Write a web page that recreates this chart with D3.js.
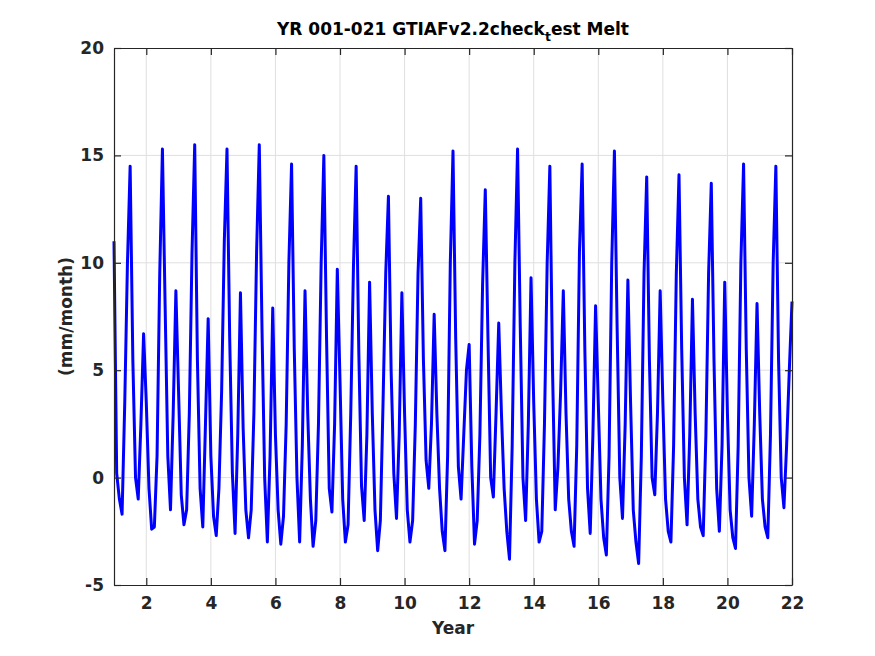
<!DOCTYPE html>
<html>
<head>
<meta charset="utf-8">
<script src="https://cdn.jsdelivr.net/npm/d3@7"></script>
<style>
  html, body { margin: 0; padding: 0; background: #fff; }
  svg { display: block; font-family: "DejaVu Sans", sans-serif; }
</style>
</head>
<body>
<svg id="chart" width="875" height="656"></svg>
<script>
// Monthly melt values (mm/month), one row per model year, samples at year + k/12
const meltYear01 = [11.0, 0.2, -1.0, -1.7, 3.5, 10.0, 14.5, 5.5, 0.0, -1.0, 2.5, 6.7];
const meltYear02 = [3.5, -0.5, -2.4, -2.3, 1.0, 9.5, 15.3, 8.0, 1.0, -1.5, 3.0, 8.7];
const meltYear03 = [4.0, -0.8, -2.2, -1.5, 3.0, 10.5, 15.5, 5.5, -0.5, -2.3, 2.5, 7.4];
const meltYear04 = [1.0, -1.8, -2.7, -0.5, 4.0, 11.0, 15.3, 6.5, 0.2, -2.6, 2.0, 8.6];
const meltYear05 = [2.3, -1.5, -2.8, -1.5, 3.0, 10.5, 15.5, 7.0, 0.0, -3.0, 1.0, 7.9];
const meltYear06 = [2.0, -1.5, -3.1, -1.8, 2.5, 10.0, 14.6, 6.0, 0.0, -3.0, 1.5, 8.7];
const meltYear07 = [3.0, -1.0, -3.2, -2.0, 2.5, 10.0, 15.0, 6.5, -0.5, -1.6, 2.5, 9.7];
const meltYear08 = [4.5, -1.0, -3.0, -2.2, 3.0, 9.8, 14.5, 5.8, -0.4, -2.0, 2.0, 9.1];
const meltYear09 = [3.0, -1.5, -3.4, -2.0, 3.5, 9.5, 13.1, 5.0, 0.2, -1.9, 2.0, 8.6];
const meltYear10 = [3.0, -1.5, -3.0, -2.0, 2.5, 9.5, 13.0, 5.5, 0.8, -0.5, 2.5, 7.6];
const meltYear11 = [3.0, -0.5, -2.5, -3.4, 1.0, 10.0, 15.2, 6.5, 0.5, -1.0, 2.0, 5.0];
const meltYear12 = [6.2, 0.5, -3.1, -2.0, 2.0, 9.0, 13.4, 6.5, 0.0, -0.9, 3.0, 7.2];
const meltYear13 = [3.0, -0.5, -2.5, -3.8, 1.5, 10.0, 15.3, 7.0, 0.0, -2.0, 2.5, 9.3];
const meltYear14 = [3.5, -1.0, -3.0, -2.5, 2.5, 10.0, 14.5, 5.0, -1.5, 0.5, 4.0, 8.7];
const meltYear15 = [3.0, -1.0, -2.5, -3.2, 1.5, 10.5, 14.6, 6.0, -0.5, -2.6, 2.0, 8.0];
const meltYear16 = [3.5, -1.0, -2.8, -3.6, 1.0, 10.0, 15.2, 7.0, 0.0, -1.9, 2.5, 9.2];
const meltYear17 = [3.5, -1.5, -3.0, -4.0, 1.0, 9.5, 14.0, 5.5, 0.0, -0.8, 3.0, 8.7];
const meltYear18 = [3.5, -1.0, -2.5, -3.0, 1.5, 9.5, 14.1, 6.0, 0.0, -2.2, 2.0, 8.3];
const meltYear19 = [3.0, -1.0, -2.3, -2.7, 2.0, 9.5, 13.7, 5.5, -0.5, -2.5, 1.5, 9.1];
const meltYear20 = [3.0, -1.5, -2.8, -3.3, 1.5, 10.0, 14.6, 6.0, 0.0, -1.8, 2.5, 8.1];
const meltYear21 = [3.0, -1.0, -2.3, -2.8, 2.0, 10.0, 14.5, 5.5, 0.0, -1.4, 1.5, 5.0];
const meltEnd = 8.2; // value at year 22.0

const xTicks = [2, 4, 6, 8, 10, 12, 14, 16, 18, 20, 22];
const yTicks = [-5, 0, 5, 10, 15, 20];

const rows = [meltYear01, meltYear02, meltYear03, meltYear04, meltYear05, meltYear06,
  meltYear07, meltYear08, meltYear09, meltYear10, meltYear11, meltYear12, meltYear13,
  meltYear14, meltYear15, meltYear16, meltYear17, meltYear18, meltYear19, meltYear20, meltYear21];

const series = [];
rows.forEach((row, i) => row.forEach((v, k) => series.push({ t: 1 + i + k / 12, v })));
series.push({ t: 22, v: meltEnd });

const svg = d3.select("#chart");
const L = 114, R = 792, T = 48, B = 585;
const x = d3.scaleLinear().domain([1, 22]).range([L, R]);
const y = d3.scaleLinear().domain([-5, 20]).range([B, T]);
const axisColor = "#262626";
const gridColor = "#dfdfdf";

// grid
svg.append("g").selectAll("line").data(xTicks.filter(d => d < 22)).join("line")
  .attr("x1", d => x(d)).attr("x2", d => x(d)).attr("y1", T).attr("y2", B)
  .attr("stroke", gridColor).attr("stroke-width", 1);
svg.append("g").selectAll("line").data(yTicks.filter(d => d > -5 && d < 20)).join("line")
  .attr("y1", d => y(d)).attr("y2", d => y(d)).attr("x1", L).attr("x2", R)
  .attr("stroke", gridColor).attr("stroke-width", 1);

// data line
const line = d3.line().x(d => x(d.t)).y(d => y(d.v));
svg.append("path").datum(series)
  .attr("d", line)
  .attr("fill", "none")
  .attr("stroke", "#0000ff")
  .attr("stroke-width", 3)
  .attr("stroke-linejoin", "round");

// axes (ticks inward, box)
const tl = 7;
const fontSize = 17;
const fmt = d => String(d);
const styleAxis = g => {
  g.select(".domain").attr("stroke", axisColor).attr("stroke-width", 1.2);
  g.selectAll(".tick line").attr("stroke", axisColor).attr("stroke-width", 1.2);
  g.selectAll(".tick text").attr("fill", axisColor).attr("font-size", fontSize)
    .attr("font-weight", "bold").attr("font-family", "DejaVu Sans, sans-serif");
};
svg.append("g").attr("transform", `translate(0,${B})`)
  .call(d3.axisBottom(x).tickValues(xTicks).tickFormat(fmt).tickSize(-tl).tickSizeOuter(0).tickPadding(12))
  .call(styleAxis);
svg.append("g").attr("transform", `translate(0,${T})`)
  .call(d3.axisTop(x).tickValues(xTicks).tickSize(-tl).tickSizeOuter(0).tickFormat(""))
  .call(styleAxis);
svg.append("g").attr("transform", `translate(${L},0)`)
  .call(d3.axisLeft(y).tickValues(yTicks).tickFormat(fmt).tickSize(-tl).tickSizeOuter(0).tickPadding(10))
  .call(styleAxis);
svg.append("g").attr("transform", `translate(${R},0)`)
  .call(d3.axisRight(y).tickValues(yTicks).tickSize(-tl).tickSizeOuter(0).tickFormat(""))
  .call(styleAxis);

// labels
svg.append("text").attr("x", (L + R) / 2).attr("y", 634)
  .attr("text-anchor", "middle").attr("font-size", fontSize).attr("font-weight", "bold")
  .attr("fill", axisColor).text("Year");
svg.append("text")
  .attr("transform", `translate(72,${(T + B) / 2}) rotate(-90)`)
  .attr("text-anchor", "middle").attr("font-size", fontSize).attr("font-weight", "bold")
  .attr("fill", axisColor).text("(mm/month)");

const title = svg.append("text").attr("x", (L + R) / 2).attr("y", 35)
  .attr("text-anchor", "middle").attr("font-size", 17).attr("font-weight", "bold")
  .attr("fill", "#000");
title.append("tspan").text("YR 001-021 GTIAFv2.2check");
title.append("tspan").attr("font-size", 12.5).attr("dy", 6).text("t");
title.append("tspan").attr("dy", -6).text("est Melt");
</script>
</body>
</html>
